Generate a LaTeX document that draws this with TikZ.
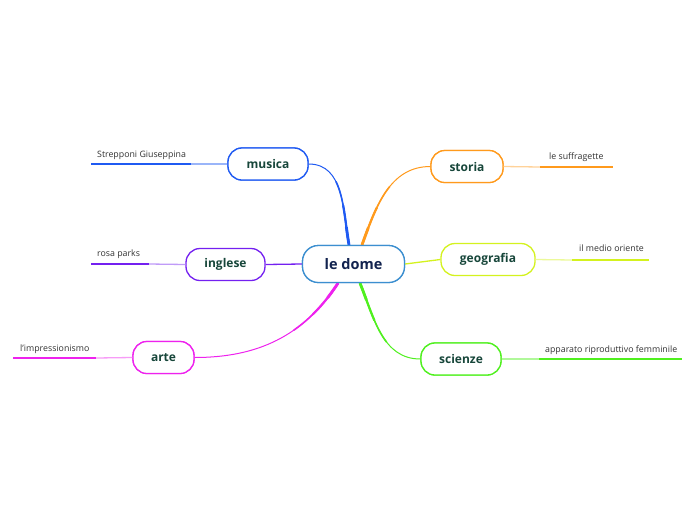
\documentclass[tikz,border=0pt]{standalone}
\usepackage{fontspec}
\setmainfont{Open Sans}
\begin{document}
\begin{tikzpicture}[x=1pt,y=-1pt,
  topic/.style={draw=#1, line width=1.3pt, rounded corners=14pt, fill=white, minimum height=32pt, inner sep=0pt, font=\fontsize{12}{14}\selectfont\bfseries, text=nodegreen},
  rootbox/.style={topic=cblue, minimum width=102pt, minimum height=37pt, rounded corners=16pt, text=cnavy, font=\fontsize{14.5}{16}\selectfont\bfseries},
  leaftext/.style={anchor=base west, inner sep=0pt, font=\fontsize{8.8}{10}\selectfont, text=leafgray},
  thickln/.style={draw=#1, line width=2.6pt},
  thinln/.style={draw=#1!45, line width=1.3pt},
]
\definecolor{nodegreen}{HTML}{17463A}
\definecolor{leafgray}{HTML}{333333}
\definecolor{cblue}{HTML}{3C8FD0}
\definecolor{cnavy}{HTML}{12234F}
\definecolor{cmus}{HTML}{1F5AF2}
\definecolor{cing}{HTML}{7420F0}
\definecolor{carte}{HTML}{EE22EE}
\definecolor{csto}{HTML}{FF9A1C}
\definecolor{cgeo}{HTML}{D4F21E}
\definecolor{csci}{HTML}{4FF01E}
\useasboundingbox (0,0) rectangle (696,520);
\fill[white] (0,0) rectangle (696,520);

% leaf endpoints
\coordinate (m1) at (191,164); \coordinate (m2) at (91,164);
\coordinate (i1) at (149,264); \coordinate (i2) at (91,264);
\coordinate (a1) at (96,358);  \coordinate (a2) at (13,358);
\coordinate (s1) at (540,167); \coordinate (s2) at (613,167);
\coordinate (g1) at (572,260); \coordinate (g2) at (649,260);
\coordinate (c1) at (539,359); \coordinate (c2) at (682,359);

% nodes
\node[rootbox] (root) at (353.5,264) {le dome};
\node[topic=cmus, minimum width=80pt] (mus) at (268,164) {musica};
\node[topic=cing, minimum width=79pt] (ing) at (225.5,264.5) {inglese};
\node[topic=carte, minimum width=61pt] (art) at (163.5,357.5) {arte};
\node[topic=csto, minimum width=72pt] (sto) at (467,166.5) {storia};
\node[topic=cgeo, minimum width=94pt] (geo) at (488,259.5) {geografia};
\node[topic=csci, minimum width=80pt] (sci) at (461,359) {scienze};

% connector start points on the root
\coordinate (rmus) at ([xshift=-4.5pt]root.north);
\coordinate (rsto) at ([xshift=8.5pt]root.north);
\coordinate (rart) at ([xshift=-15.5pt]root.south);
\coordinate (rsci) at ([xshift=6.5pt]root.south);

% main connectors (tapered by overlaid partial strokes)
\foreach \col/\a/\b/\o/\i in {cmus/rmus/mus.east/100/0,
                               csto/rsto/sto.west/70/180,
                               carte/rart/art.east/237/0,
                               csci/rsci/sci.west/-68/180}{
  \draw[\col, line width=1pt] (\a) to[out=\o,in=\i] (\b);
  \draw[\col, line width=1.6pt, dash pattern=on 65pt off 2000pt] (\a) to[out=\o,in=\i] (\b);
  \draw[\col, line width=2.2pt, dash pattern=on 40pt off 2000pt] (\a) to[out=\o,in=\i] (\b);
  \draw[\col, line width=2.8pt, dash pattern=on 18pt off 2000pt] (\a) to[out=\o,in=\i] (\b);
}
\draw[cing, line width=1.3pt] (root.west) -- (ing.east);
\draw[cgeo, line width=1.3pt] (root.east) -- (geo.west);

% redraw nodes on top of connectors
\node[rootbox] at (root) {le dome};
\node[topic=cmus, minimum width=80pt] at (mus) {musica};
\node[topic=carte, minimum width=61pt] at (art) {arte};
\node[topic=csto, minimum width=72pt] at (sto) {storia};
\node[topic=csci, minimum width=80pt] at (sci) {scienze};

% leaves
\draw[thinln=cmus] (mus.west) -- (m1);
\draw[thickln=cmus] (m1) -- (m2);
\node[leaftext] (tm) at (97,157) {Strepponi Giuseppina};

\draw[thinln=cing] (ing.west) -- (i1);
\draw[thickln=cing] (i1) -- (i2);
\node[leaftext] (ti) at (97,256.5) {rosa parks};

\draw[thinln=carte] (art.west) -- (a1);
\draw[thickln=carte] (a1) -- (a2);
\node[leaftext] (ta) at (20,351) {l'impressionismo};

\draw[thinln=csto] (sto.east) -- (s1);
\draw[thickln=csto] (s1) -- (s2);
\node[leaftext] (ts) at (549,159) {le suffragette};

\draw[thinln=cgeo] (geo.east) -- (g1);
\draw[thickln=cgeo] (g1) -- (g2);
\node[leaftext] (tg) at (579,251) {il medio oriente};

\draw[thinln=csci] (sci.east) -- (c1);
\draw[thickln=csci] (c1) -- (c2);
\node[leaftext] (tc) at (545,352) {apparato riproduttivo femminile};
\end{tikzpicture}
\end{document}
